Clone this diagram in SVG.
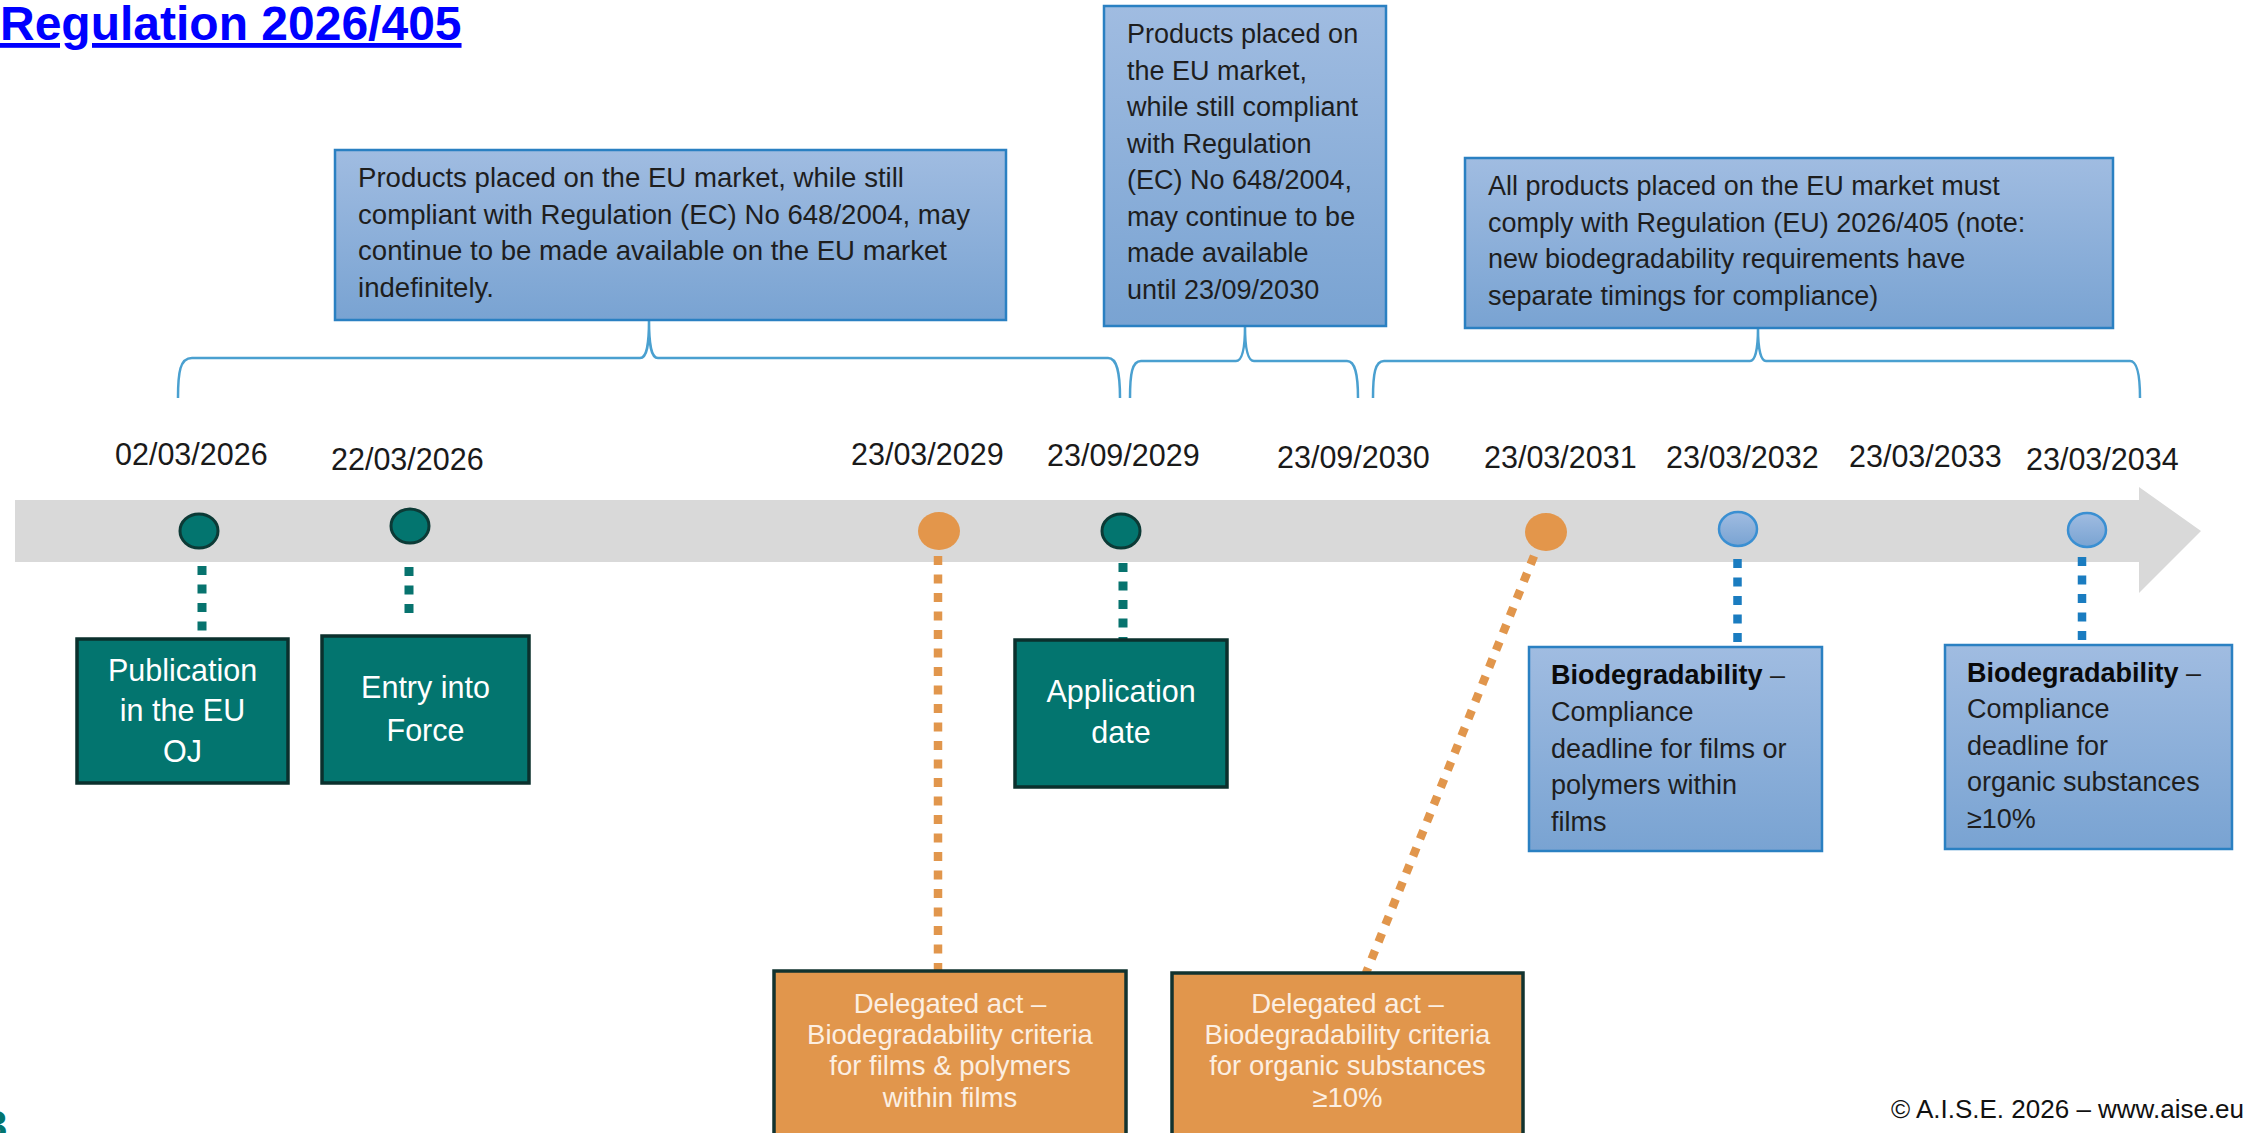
<svg xmlns="http://www.w3.org/2000/svg" width="2243" height="1133" viewBox="0 0 2243 1133">
  <style>
    text { font-family: "Liberation Sans", Arial, sans-serif; }
    .title { font-size: 48px; font-weight: bold; fill: #0000ff; text-decoration: underline; }
    .date { font-size: 30.5px; fill: #1a1a1a; }
    .note { font-size: 27px; fill: #1e1e1e; }
    .note-wide { font-size: 27.6px; fill: #1e1e1e; }
    .bio { font-size: 27px; fill: #1e1e1e; }
    .b { font-weight: bold; fill: #0a0a0a; }
    .teal-t { font-size: 30.5px; fill: #ffffff; text-anchor: middle; }
    .orange-t { font-size: 27.5px; fill: #fcefe2; text-anchor: middle; }
    .bluebox { fill: url(#blueGrad); stroke: #2a80c2; stroke-width: 2.5; }
    .tealbox { fill: #03756f; stroke: #0b302d; stroke-width: 3.5; }
    .orangebox { fill: #e1964c; stroke: #12332f; stroke-width: 3.5; }
    .brace { fill: none; stroke: #4aa0d0; stroke-width: 2.5; }
    .dot-teal { stroke: #07736e; stroke-width: 9; stroke-dasharray: 9 9.5; fill: none; }
    .dot-orange { stroke: #e1964c; stroke-width: 8.5; stroke-dasharray: 9 9.5; fill: none; }
    .dot-blue { stroke: #1a7cc0; stroke-width: 8.5; stroke-dasharray: 9 9.5; fill: none; }
    .c-teal { fill: #03756f; stroke: #0c3a36; stroke-width: 3; }
    .c-orange { fill: #e3964b; }
    .c-blue { fill: url(#blueGrad); stroke: #3a8fd2; stroke-width: 2.5; }
    .foot { font-size: 26px; fill: #111111; }
  </style>
  <defs>
    <linearGradient id="blueGrad" x1="0" y1="0" x2="0" y2="1">
      <stop offset="0" stop-color="#a0bce1"/>
      <stop offset="1" stop-color="#79a3d2"/>
    </linearGradient>
  </defs>

  <rect x="0" y="0" width="2243" height="1133" fill="#ffffff"/>

  <g id="title">
    <text class="title" x="0" y="40">Regulation 2026/405</text>
  </g>

  <!-- timeline band -->
  <g id="timeline">
    <polygon points="15,500 2139,500 2139,487 2201,531 2139,593 2139,562 15,562" fill="#d9d9d9"/>
  </g>

  <!-- connectors -->
  <g id="connectors">
    <path class="brace" d="M178,398 C178,372 180,358 192,358 L640,358 C647,358 649,345 649,320 C649,345 651,358 658,358 L1108,358 C1117,358 1120,372 1120,398"/>
    <path class="brace" d="M1130,398 C1130,374 1132,361 1141,361 L1236,361 C1242,361 1245,350 1245,326 C1245,350 1248,361 1254,361 L1347,361 C1355,361 1358,374 1358,398"/>
    <path class="brace" d="M1373,398 C1373,374 1375,361 1384,361 L1750,361 C1755,361 1758,350 1758,328 C1758,350 1761,361 1766,361 L2130,361 C2137,361 2140,374 2140,398"/>
    <line class="dot-teal" x1="202" y1="566" x2="202" y2="633"/>
    <line class="dot-teal" x1="409" y1="567" x2="409" y2="615"/>
    <line class="dot-teal" x1="1123" y1="563" x2="1123" y2="640"/>
    <line class="dot-orange" x1="938" y1="556" x2="938" y2="971"/>
    <line class="dot-orange" x1="1534" y1="556" x2="1366" y2="973"/>
    <line class="dot-blue" x1="1737.5" y1="559" x2="1737.5" y2="646"/>
    <line class="dot-blue" x1="2082" y1="557" x2="2082" y2="644"/>
  </g>

  <!-- top notes -->
  <g id="note-indefinitely">
    <rect class="bluebox" x="335" y="150" width="671" height="170"/>
    <text class="note-wide" x="358" y="187">Products placed on the EU market, while still</text>
    <text class="note-wide" x="358" y="223.5">compliant with Regulation (EC) No 648/2004, may</text>
    <text class="note-wide" x="358" y="260">continue to be made available on the EU market</text>
    <text class="note-wide" x="358" y="296.5">indefinitely.</text>
  </g>

  <g id="note-until-2030">
    <rect class="bluebox" x="1104" y="6" width="282" height="320"/>
    <text class="note" x="1127" y="43">Products placed on</text>
    <text class="note" x="1127" y="79.5">the EU market,</text>
    <text class="note" x="1127" y="116">while still compliant</text>
    <text class="note" x="1127" y="152.5">with Regulation</text>
    <text class="note" x="1127" y="189">(EC) No 648/2004,</text>
    <text class="note" x="1127" y="225.5">may continue to be</text>
    <text class="note" x="1127" y="262">made available</text>
    <text class="note" x="1127" y="298.5">until 23/09/2030</text>
  </g>

  <g id="note-all-products">
    <rect class="bluebox" x="1465" y="158" width="648" height="170"/>
    <text class="note" x="1488" y="195">All products placed on the EU market must</text>
    <text class="note" x="1488" y="231.5">comply with Regulation (EU) 2026/405 (note:</text>
    <text class="note" x="1488" y="268">new biodegradability requirements have</text>
    <text class="note" x="1488" y="304.5">separate timings for compliance)</text>
  </g>

  <!-- dates -->
  <g id="dates">
    <text class="date" x="115" y="465">02/03/2026</text>
    <text class="date" x="331" y="470">22/03/2026</text>
    <text class="date" x="851" y="465">23/03/2029</text>
    <text class="date" x="1047" y="466">23/09/2029</text>
    <text class="date" x="1277" y="468">23/09/2030</text>
    <text class="date" x="1484" y="468">23/03/2031</text>
    <text class="date" x="1666" y="468">23/03/2032</text>
    <text class="date" x="1849" y="467">23/03/2033</text>
    <text class="date" x="2026" y="470">23/03/2034</text>
  </g>

  <!-- milestones -->
  <g id="m-2026-03-02"><ellipse class="c-teal" cx="199" cy="531" rx="19" ry="17"/></g>
  <g id="m-2026-03-22"><ellipse class="c-teal" cx="410" cy="526" rx="19" ry="17"/></g>
  <g id="m-2029-03-23"><ellipse class="c-orange" cx="939" cy="531" rx="21" ry="19"/></g>
  <g id="m-2029-09-23"><ellipse class="c-teal" cx="1121" cy="531" rx="19" ry="17"/></g>
  <g id="m-2031-03-23"><ellipse class="c-orange" cx="1546" cy="532" rx="21" ry="19"/></g>
  <g id="m-2032-03-23"><ellipse class="c-blue" cx="1738" cy="529" rx="19" ry="17"/></g>
  <g id="m-2034-03-23"><ellipse class="c-blue" cx="2087" cy="530" rx="19" ry="17"/></g>

  <!-- event boxes -->
  <g id="publication">
    <rect class="tealbox" x="77" y="639" width="211" height="144"/>
    <text class="teal-t" x="182.5" y="681">Publication</text>
    <text class="teal-t" x="182.5" y="721">in the EU</text>
    <text class="teal-t" x="182.5" y="762">OJ</text>
  </g>

  <g id="entry-into-force">
    <rect class="tealbox" x="322" y="636" width="207" height="147"/>
    <text class="teal-t" x="425.5" y="698">Entry into</text>
    <text class="teal-t" x="425.5" y="741">Force</text>
  </g>

  <g id="application-date">
    <rect class="tealbox" x="1015" y="640" width="212" height="147"/>
    <text class="teal-t" x="1121" y="702">Application</text>
    <text class="teal-t" x="1121" y="743">date</text>
  </g>

  <g id="biodeg-films">
    <rect class="bluebox" x="1529" y="647" width="293" height="204"/>
    <text class="bio" x="1551" y="683.5"><tspan class="b">Biodegradability</tspan> –</text>
    <text class="bio" x="1551" y="720.5">Compliance</text>
    <text class="bio" x="1551" y="757.5">deadline for films or</text>
    <text class="bio" x="1551" y="794">polymers within</text>
    <text class="bio" x="1551" y="830.5">films</text>
  </g>

  <g id="biodeg-organic">
    <rect class="bluebox" x="1945" y="645" width="287" height="204"/>
    <text class="bio" x="1967" y="681.5"><tspan class="b">Biodegradability</tspan> –</text>
    <text class="bio" x="1967" y="718">Compliance</text>
    <text class="bio" x="1967" y="754.5">deadline for</text>
    <text class="bio" x="1967" y="791">organic substances</text>
    <text class="bio" x="1967" y="827.5">≥10%</text>
  </g>

  <g id="delegated-films">
    <rect class="orangebox" x="774" y="971" width="352" height="175"/>
    <text class="orange-t" x="950" y="1012.5">Delegated act –</text>
    <text class="orange-t" x="950" y="1043.5">Biodegradability criteria</text>
    <text class="orange-t" x="950" y="1075">for films &amp; polymers</text>
    <text class="orange-t" x="950" y="1106.5">within films</text>
  </g>

  <g id="delegated-organic">
    <rect class="orangebox" x="1172" y="973" width="351" height="175"/>
    <text class="orange-t" x="1347.5" y="1012.5">Delegated act –</text>
    <text class="orange-t" x="1347.5" y="1043.5">Biodegradability criteria</text>
    <text class="orange-t" x="1347.5" y="1075">for organic substances</text>
    <text class="orange-t" x="1347.5" y="1106.5">≥10%</text>
  </g>

  <g id="footer">
    <text class="foot" x="1891" y="1118">© A.I.S.E. 2026 – www.aise.eu</text>
    <text x="-16" y="1140" font-size="42" font-weight="bold" fill="#03756f">3</text>
  </g>
</svg>
